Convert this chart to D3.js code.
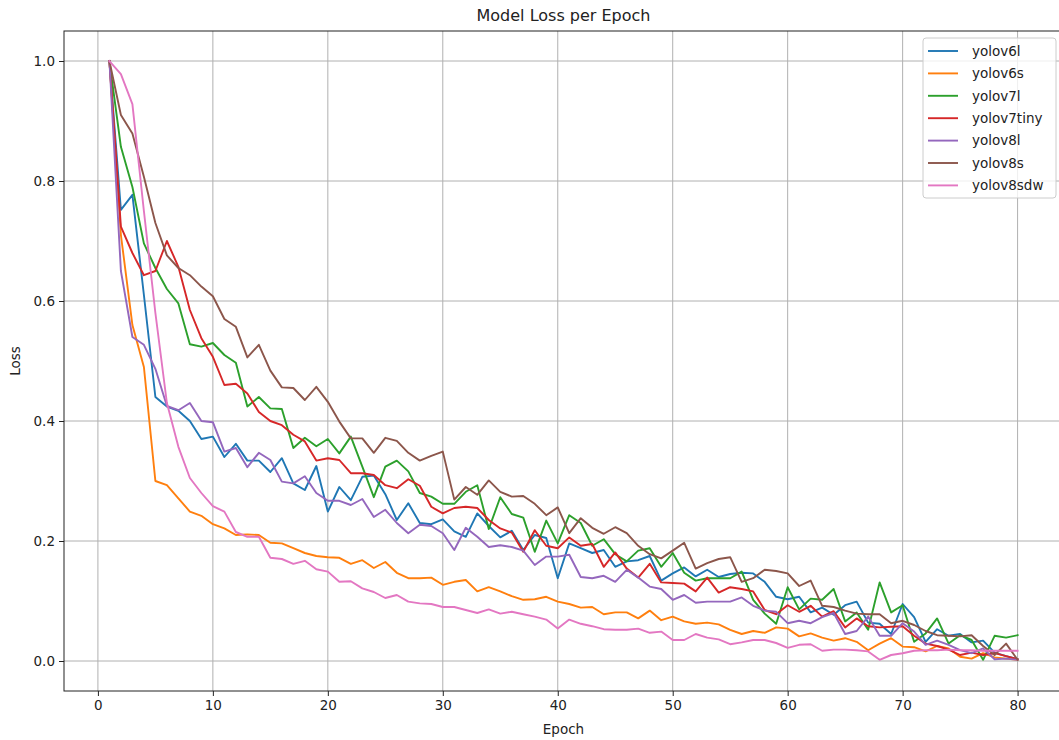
<!DOCTYPE html>
<html>
<head>
<meta charset="utf-8">
<script src="https://cdn.jsdelivr.net/npm/d3@7"></script>
<style>
  body { margin: 0; background: #fff; }
  svg text { font-family: "DejaVu Sans", sans-serif; }
</style>
</head>
<body>
<div id="container"></div>
<script>
/* CONSTANTS AND GLOBALS */
const width = 1059,
  height = 740,
  margin = { left: 64, top: 31, bottom: 49, right: -4 };

/* DATA */
const epochs = d3.range(1, 81);
const modelNames = ["yolov6l", "yolov6s", "yolov7l", "yolov7tiny", "yolov8l", "yolov8s", "yolov8sdw"];
const colors = ["#1f77b4", "#ff7f0e", "#2ca02c", "#d62728", "#9467bd", "#8c564b", "#e377c2"];
const xTicks = [0, 10, 20, 30, 40, 50, 60, 70, 80];
const yTicks = [0.0, 0.2, 0.4, 0.6, 0.8, 1.0];

const yolov6l = [1.0, 0.752, 0.777, 0.61, 0.44, 0.424, 0.417, 0.40, 0.37, 0.374,
  0.34, 0.362, 0.334, 0.334, 0.315, 0.338, 0.296, 0.285, 0.325, 0.249,
  0.29, 0.268, 0.307, 0.309, 0.278, 0.235, 0.263, 0.23, 0.228, 0.236,
  0.216, 0.207, 0.246, 0.225, 0.206, 0.217, 0.185, 0.21, 0.205, 0.138,
  0.196, 0.188, 0.18, 0.185, 0.157, 0.166, 0.168, 0.175, 0.134, 0.146,
  0.156, 0.141, 0.152, 0.14, 0.145, 0.147, 0.146, 0.132, 0.107, 0.103,
  0.107, 0.081, 0.089, 0.077, 0.093, 0.099, 0.064, 0.062, 0.045, 0.095,
  0.073, 0.032, 0.053, 0.042, 0.045, 0.031, 0.034, 0.014, 0.008, 0.003];

const yolov6s = [1.0, 0.71, 0.56, 0.49, 0.30, 0.293, 0.271, 0.249, 0.242, 0.228,
  0.221, 0.21, 0.211, 0.21, 0.197, 0.196, 0.188, 0.18, 0.175, 0.173,
  0.172, 0.162, 0.168, 0.155, 0.165, 0.147, 0.138, 0.138, 0.139, 0.127,
  0.132, 0.135, 0.116, 0.123, 0.116, 0.108, 0.102, 0.103, 0.107, 0.099,
  0.095, 0.089, 0.09, 0.078, 0.081, 0.081, 0.071, 0.084, 0.068, 0.074,
  0.066, 0.062, 0.064, 0.061, 0.052, 0.045, 0.05, 0.047, 0.056, 0.054,
  0.041, 0.046, 0.039, 0.034, 0.038, 0.032, 0.018, 0.029, 0.038, 0.024,
  0.023, 0.016, 0.025, 0.021, 0.007, 0.004, 0.013, 0.006, 0.004, 0.002];

const yolov7l = [1.0, 0.857, 0.79, 0.696, 0.655, 0.62, 0.596, 0.528, 0.524, 0.53,
  0.51, 0.497, 0.424, 0.44, 0.421, 0.42, 0.355, 0.372, 0.358, 0.37,
  0.346, 0.374, 0.324, 0.273, 0.324, 0.334, 0.316, 0.28, 0.274, 0.262,
  0.262, 0.282, 0.293, 0.22, 0.273, 0.245, 0.239, 0.182, 0.234, 0.196,
  0.243, 0.23, 0.192, 0.203, 0.178, 0.166, 0.184, 0.188, 0.157, 0.18,
  0.147, 0.134, 0.138, 0.138, 0.138, 0.149, 0.102, 0.079, 0.062, 0.123,
  0.086, 0.104, 0.102, 0.12, 0.066, 0.081, 0.052, 0.131, 0.081, 0.093,
  0.032, 0.046, 0.071, 0.029, 0.043, 0.035, 0.002, 0.042, 0.039, 0.043];

const yolov7tiny = [1.0, 0.724, 0.68, 0.643, 0.65, 0.70, 0.657, 0.585, 0.538, 0.507,
  0.46, 0.462, 0.446, 0.415, 0.40, 0.393, 0.377, 0.366, 0.334, 0.338,
  0.335, 0.313, 0.313, 0.31, 0.293, 0.288, 0.303, 0.292, 0.257, 0.246,
  0.255, 0.257, 0.255, 0.235, 0.221, 0.214, 0.182, 0.218, 0.192, 0.188,
  0.206, 0.192, 0.195, 0.157, 0.181, 0.154, 0.139, 0.162, 0.131, 0.13,
  0.129, 0.116, 0.139, 0.114, 0.123, 0.12, 0.116, 0.085, 0.078, 0.093,
  0.082, 0.092, 0.074, 0.083, 0.056, 0.071, 0.058, 0.056, 0.057, 0.058,
  0.042, 0.029, 0.025, 0.019, 0.01, 0.014, 0.01, 0.013, 0.008, 0.003];

const yolov8l = [1.0, 0.65, 0.54, 0.527, 0.487, 0.425, 0.418, 0.43, 0.40, 0.398,
  0.349, 0.355, 0.323, 0.347, 0.335, 0.299, 0.296, 0.308, 0.28, 0.267,
  0.267, 0.26, 0.27, 0.24, 0.252, 0.23, 0.213, 0.227, 0.225, 0.213,
  0.185, 0.222, 0.207, 0.19, 0.193, 0.19, 0.184, 0.16, 0.174, 0.174,
  0.177, 0.14, 0.138, 0.142, 0.132, 0.152, 0.139, 0.124, 0.12, 0.102,
  0.11, 0.097, 0.099, 0.099, 0.099, 0.106, 0.092, 0.084, 0.082, 0.063,
  0.067, 0.063, 0.073, 0.08, 0.045, 0.05, 0.074, 0.042, 0.042, 0.063,
  0.049, 0.027, 0.034, 0.027, 0.018, 0.013, 0.021, 0.003, 0.004, 0.002];

const yolov8s = [1.0, 0.91, 0.879, 0.807, 0.73, 0.676, 0.655, 0.643, 0.624, 0.608,
  0.57, 0.557, 0.506, 0.527, 0.484, 0.456, 0.455, 0.435, 0.457, 0.432,
  0.399, 0.371, 0.371, 0.347, 0.372, 0.367, 0.347, 0.334, 0.342, 0.349,
  0.269, 0.29, 0.277, 0.301, 0.282, 0.274, 0.275, 0.262, 0.243, 0.256,
  0.213, 0.238, 0.222, 0.212, 0.223, 0.213, 0.192, 0.178, 0.171, 0.184,
  0.197, 0.154, 0.163, 0.17, 0.173, 0.132, 0.138, 0.152, 0.15, 0.146,
  0.125, 0.134, 0.092, 0.09, 0.084, 0.079, 0.078, 0.078, 0.063, 0.067,
  0.06, 0.05, 0.043, 0.042, 0.041, 0.043, 0.025, 0.01, 0.029, 0.002];

const yolov8sdw = [1.0, 0.978, 0.928, 0.75, 0.58, 0.43, 0.357, 0.305, 0.28, 0.258,
  0.249, 0.215, 0.207, 0.207, 0.172, 0.17, 0.162, 0.167, 0.153, 0.149,
  0.132, 0.133, 0.121, 0.115, 0.105, 0.11, 0.099, 0.096, 0.095, 0.09,
  0.09, 0.085, 0.08, 0.086, 0.079, 0.082, 0.078, 0.074, 0.069, 0.054,
  0.069, 0.062, 0.058, 0.053, 0.052, 0.052, 0.054, 0.047, 0.049, 0.035,
  0.035, 0.045, 0.039, 0.036, 0.028, 0.031, 0.035, 0.035, 0.03, 0.022,
  0.027, 0.028, 0.017, 0.019, 0.019, 0.018, 0.016, 0.002, 0.01, 0.013,
  0.017, 0.018, 0.018, 0.019, 0.018, 0.018, 0.017, 0.017, 0.017, 0.017];

const seriesValues = [yolov6l, yolov6s, yolov7l, yolov7tiny, yolov8l, yolov8s, yolov8sdw];

const series = modelNames.map((name, i) => ({
  name,
  color: colors[i],
  values: epochs.map((e, j) => ({ epoch: e, loss: seriesValues[i][j] }))
}));

// SCALES (matplotlib style 5% margins)
const xPad = (80 - 1) * 0.05;
const xScale = d3.scaleLinear()
  .domain([1 - xPad, 80 + xPad])
  .range([margin.left, width - margin.right]);

const yScale = d3.scaleLinear()
  .domain([-0.05, 1.05])
  .range([height - margin.bottom, margin.top]);

// CREATE SVG ELEMENT
const svg = d3.select("#container")
  .append("svg")
  .attr("width", width)
  .attr("height", height);

// GRID
svg.append("g")
  .selectAll("line")
  .data(xTicks)
  .join("line")
  .attr("x1", d => xScale(d))
  .attr("x2", d => xScale(d))
  .attr("y1", margin.top)
  .attr("y2", height - margin.bottom)
  .attr("stroke", "#b0b0b0")
  .attr("stroke-width", 1);

svg.append("g")
  .selectAll("line")
  .data(yTicks)
  .join("line")
  .attr("x1", margin.left)
  .attr("x2", width - margin.right)
  .attr("y1", d => yScale(d))
  .attr("y2", d => yScale(d))
  .attr("stroke", "#b0b0b0")
  .attr("stroke-width", 1);

// LINES
const lineGen = d3.line()
  .x(d => xScale(d.epoch))
  .y(d => yScale(d.loss));

svg.append("g")
  .selectAll("path")
  .data(series)
  .join("path")
  .attr("d", d => lineGen(d.values))
  .attr("fill", "none")
  .attr("stroke", d => d.color)
  .attr("stroke-width", 1.9)
  .attr("stroke-linejoin", "round")
  .attr("stroke-linecap", "square");

// FRAME
svg.append("rect")
  .attr("x", margin.left)
  .attr("y", margin.top)
  .attr("width", width - margin.right - margin.left)
  .attr("height", height - margin.bottom - margin.top)
  .attr("fill", "none")
  .attr("stroke", "#222")
  .attr("stroke-width", 1);

// AXES
const xAxis = d3.axisBottom(xScale)
  .tickValues(xTicks)
  .tickSize(5)
  .tickPadding(4)
  .tickSizeOuter(0);

const yAxis = d3.axisLeft(yScale)
  .tickValues(yTicks)
  .tickFormat(d3.format(".1f"))
  .tickSize(5)
  .tickPadding(4)
  .tickSizeOuter(0);

const gx = svg.append("g")
  .attr("transform", `translate(0, ${height - margin.bottom})`)
  .call(xAxis);

const gy = svg.append("g")
  .attr("transform", `translate(${margin.left}, 0)`)
  .call(yAxis);

[gx, gy].forEach(g => {
  g.select(".domain").remove();
  g.selectAll(".tick line").attr("stroke", "#222").attr("stroke-width", 1);
  g.selectAll(".tick text")
    .attr("fill", "#222")
    .style("font-size", "13.5px")
    .style("font-family", "'DejaVu Sans', sans-serif");
});

// LABELS
const plotCenter = (margin.left + width - margin.right) / 2;

svg.append("text")
  .attr("x", plotCenter)
  .attr("y", 21)
  .attr("text-anchor", "middle")
  .attr("fill", "#222")
  .style("font-size", "16px")
  .text("Model Loss per Epoch");

svg.append("text")
  .attr("x", plotCenter)
  .attr("y", 734)
  .attr("text-anchor", "middle")
  .attr("fill", "#222")
  .style("font-size", "13.5px")
  .text("Epoch");

svg.append("text")
  .attr("transform", `translate(20, ${(margin.top + height - margin.bottom) / 2}) rotate(-90)`)
  .attr("text-anchor", "middle")
  .attr("fill", "#222")
  .style("font-size", "13.5px")
  .text("Loss");

// LEGEND
const legendX = 923, legendY = 38, rowH = 22.4;
const legend = svg.append("g");

legend.append("rect")
  .attr("x", legendX)
  .attr("y", legendY)
  .attr("width", 133)
  .attr("height", 160)
  .attr("rx", 3)
  .attr("fill", "#fff")
  .attr("fill-opacity", 0.8)
  .attr("stroke", "#cccccc")
  .attr("stroke-width", 1);

const items = legend.selectAll(".item")
  .data(series)
  .join("g")
  .attr("class", "item")
  .attr("transform", (d, i) => `translate(${legendX}, ${legendY + 13 + i * rowH})`);

items.append("line")
  .attr("x1", 5)
  .attr("x2", 35)
  .attr("stroke", d => d.color)
  .attr("stroke-width", 1.9);

items.append("text")
  .attr("x", 49)
  .attr("dy", "0.35em")
  .style("font-size", "13.5px")
  .attr("fill", "#222")
  .text(d => d.name);
</script>
</body>
</html>
